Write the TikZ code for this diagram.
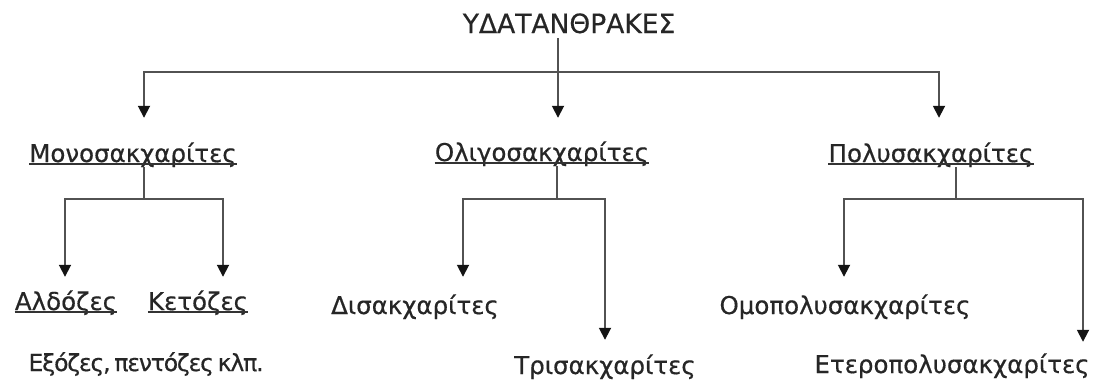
\documentclass[tikz,border=0pt]{standalone}
\usepackage{fontspec}
\setmainfont[FakeBold=0.5]{DejaVu Sans}
\newfontfamily\tightfont[FakeBold=0.5,LetterSpace=-5,WordSpace=0.6]{DejaVu Sans}
\usetikzlibrary{arrows.meta}
\begin{document}
\begin{tikzpicture}[x=1pt,y=-1pt,
  lbl/.style={font=\fontsize{24.5}{28}\selectfont, inner sep=0pt, anchor=base,
    text height=18pt, text depth=5pt, text=black!85},
  conn/.style={draw=black!68, line width=1.8pt},
  arr/.style={conn, -{Triangle[width=12pt,length=12pt,color=black!92]}},
  ul/.style={draw=black!80, line width=1.3pt}]
\useasboundingbox (0,0) rectangle (1094,383);
% nodes
\node[lbl, font=\fontsize{26.5}{30}\selectfont] (root) at (569,33) {ΥΔΑΤΑΝΘΡΑΚΕΣ};
\node[lbl] (mono) at (133,162) {Μονοσακχαρίτες};
\node[lbl] (olig) at (542,161) {Ολιγοσακχαρίτες};
\node[lbl] (poly) at (931,162) {Πολυσακχαρίτες};
\node[lbl] (ald) at (66,310) {Αλδόζες};
\node[lbl] (ket) at (198,310) {Κετόζες};
\node[lbl, font=\tightfont\fontsize{23.5}{28}\selectfont] (hex) at (146,371) {Εξόζες, πεντόζες κλπ.};
\node[lbl] (dis) at (415,314) {Δισακχαρίτες};
\node[lbl] (tri) at (605,374) {Τρισακχαρίτες};
\node[lbl] (omo) at (845,314) {Ομοπολυσακχαρίτες};
\node[lbl] (ete) at (952,373) {Ετεροπολυσακχαρίτες};
% underlines
\foreach \n in {mono,olig,poly,ald,ket}
  \draw[ul] ([yshift=-2pt]\n.base west) -- ([yshift=-2pt]\n.base east);
% junction coordinates
\coordinate (h0) at (558,72);
\coordinate (c1) at (144,72);
\coordinate (c3) at (939,72);
\coordinate (b1) at (144,199);
\coordinate (l1) at (65,199);
\coordinate (r1) at (223,199);
\coordinate (b2) at (557,199);
\coordinate (l2) at (463,199);
\coordinate (r2) at (605,199);
\coordinate (b3) at (956,199);
\coordinate (l3) at (844,199);
\coordinate (r3) at (1083,199);
% level 1
\draw[arr] (root.south -| h0) -- ([yshift=25pt]olig.north -| h0);
\draw[arr] (h0) -- (c1) -- ([yshift=26pt]mono.north -| c1);
\draw[arr] (h0) -- (c3) -- ([yshift=26pt]poly.north -| c3);
% level 2
\draw[conn] (mono.south -| b1) -- (b1);
\draw[arr] (b1) -- (l1) -- ([yshift=15pt]ald.north -| l1);
\draw[arr] (b1) -- (r1) -- ([yshift=15pt]ket.north -| r1);
\draw[conn] (olig.south -| b2) -- (b2);
\draw[arr] (b2) -- (l2) -- ([yshift=19pt]dis.north -| l2);
\draw[arr] (b2) -- (r2) -- ([yshift=16pt]tri.north -| r2);
\draw[conn] (poly.south -| b3) -- (b3);
\draw[arr] (b3) -- (l3) -- ([yshift=19pt]omo.north -| l3);
\draw[arr] (b3) -- (r3) -- ([yshift=13pt]ete.north -| r3);
\end{tikzpicture}
\end{document}
